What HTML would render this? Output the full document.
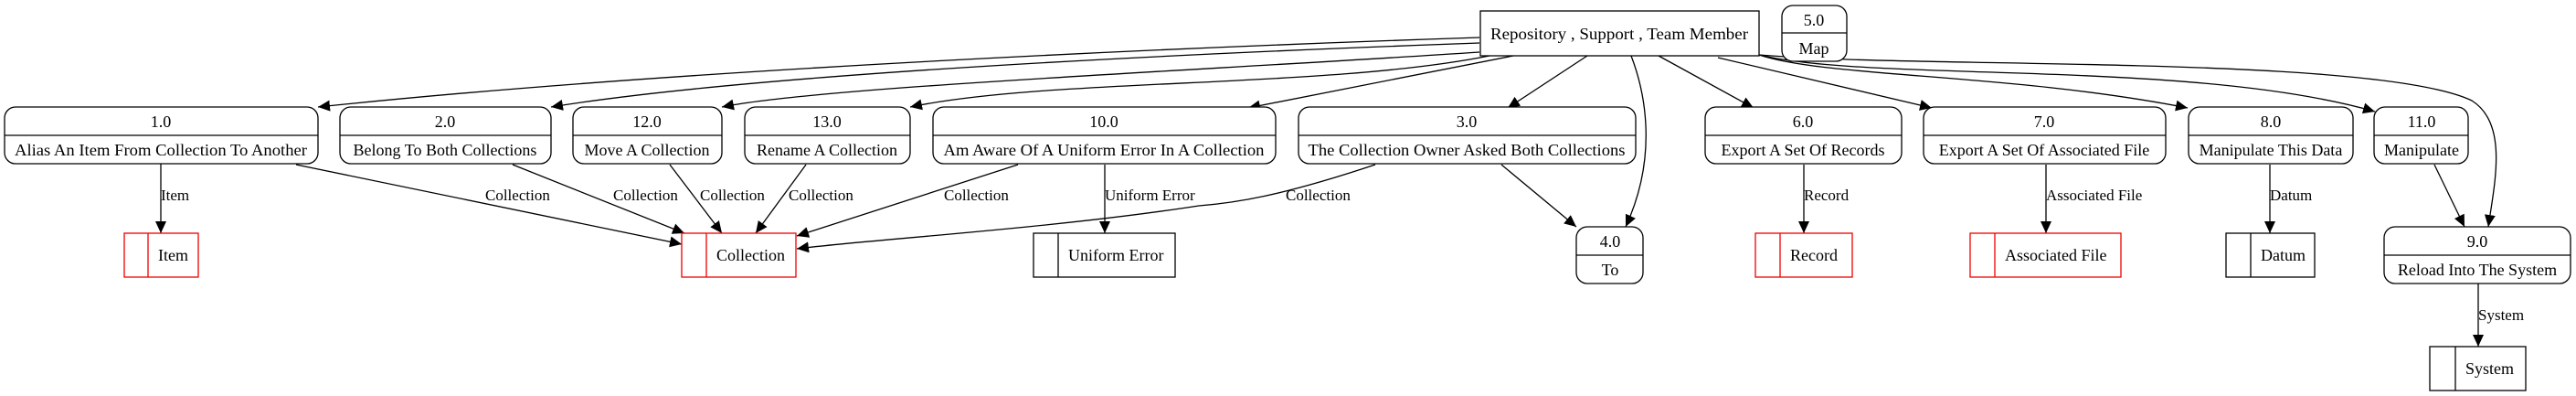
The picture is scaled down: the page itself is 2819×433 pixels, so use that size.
<!DOCTYPE html>
<html><head><meta charset="utf-8"><style>
html,body{margin:0;padding:0;background:#fff;}
svg{display:block;}
text{font-family:"Liberation Serif","Times New Roman",serif;font-size:18px;fill:#000;}
</style></head><body>
<svg width="2819" height="433" viewBox="0 0 2819 433" xmlns="http://www.w3.org/2000/svg">
<defs>
<marker id="a" markerUnits="userSpaceOnUse" markerWidth="14" markerHeight="12" refX="13" refY="6" orient="auto">
<path d="M0,0 L13,6 L0,12 Z" fill="#000"/>
</marker>
</defs>
<g fill="none" stroke="#000" stroke-width="1.3" marker-end="url(#a)">
<!-- from repository -->
<path d="M1619,41 C1200,55 700,80 348,117"/>
<path d="M1619,47 C1200,62 800,85 603,117"/>
<path d="M1619,57 C1300,78 900,95 790,117"/>
<path d="M1630,61 C1450,97 1150,85 996,117"/>
<path d="M1656,61 L1366,118"/>
<path d="M1737,61 L1650,118"/>
<path d="M1785,61 C1800,100 1815,170 1779,248"/>
<path d="M1815,61 L1919,118"/>
<path d="M1880,63 L2114,118"/>
<path d="M1925,60 C2000,85 2200,80 2394,118"/>
<path d="M1925,60 C2050,90 2400,65 2599,122"/>
<path d="M1925,60 C2100,75 2600,60 2705,110 C2745,135 2730,200 2723,248"/>
<path d="M2664,180 L2697,248"/>
<path d="M2712,310 L2712,379"/>
<!-- to stores -->
<path d="M176,179 L176,255"/>
<path d="M324,180 L746,267"/>
<path d="M561,180 L749,255"/>
<path d="M733,180 L790,255"/>
<path d="M882,180 L827,255"/>
<path d="M1114,180 L872,258"/>
<path d="M1505,180 C1400,215 1350,222 1312,225 C1150,250 950,262 872,272"/>
<path d="M1209,180 L1209,255"/>
<path d="M1643,180 L1725,248"/>
<path d="M1974,180 L1974,255"/>
<path d="M2239,180 L2239,255"/>
<path d="M2484,180 L2484,255"/>
</g>
<!-- process nodes -->
<g fill="#fff" stroke="#000" stroke-width="1.3">
<rect x="5" y="117" width="343" height="62" rx="12"/><line x1="5" y1="148" x2="348" y2="148"/>
<rect x="372" y="117" width="231" height="62" rx="12"/><line x1="372" y1="148" x2="603" y2="148"/>
<rect x="627" y="117" width="163" height="62" rx="12"/><line x1="627" y1="148" x2="790" y2="148"/>
<rect x="815" y="117" width="181" height="62" rx="12"/><line x1="815" y1="148" x2="996" y2="148"/>
<rect x="1021" y="117" width="375" height="62" rx="12"/><line x1="1021" y1="148" x2="1396" y2="148"/>
<rect x="1421" y="117" width="369" height="62" rx="12"/><line x1="1421" y1="148" x2="1790" y2="148"/>
<rect x="1866" y="117" width="215" height="62" rx="12"/><line x1="1866" y1="148" x2="2081" y2="148"/>
<rect x="2105" y="117" width="265" height="62" rx="12"/><line x1="2105" y1="148" x2="2370" y2="148"/>
<rect x="2395" y="117" width="180" height="62" rx="12"/><line x1="2395" y1="148" x2="2575" y2="148"/>
<rect x="2598" y="117" width="103" height="62" rx="12"/><line x1="2598" y1="148" x2="2701" y2="148"/>
<rect x="2609" y="248" width="204" height="62" rx="12"/><line x1="2609" y1="279" x2="2813" y2="279"/>
<rect x="1725" y="248" width="73" height="62" rx="12"/><line x1="1725" y1="279" x2="1798" y2="279"/>
<rect x="1950" y="6" width="71" height="61" rx="12"/><line x1="1950" y1="36" x2="2021" y2="36"/>
<rect x="1620" y="12" width="305" height="49"/>
</g>
<!-- stores -->
<g fill="#fff" stroke="#e00" stroke-width="1.3">
<rect x="136" y="255" width="81" height="48"/><line x1="162" y1="255" x2="162" y2="303"/>
<rect x="746" y="255" width="125" height="48"/><line x1="773" y1="255" x2="773" y2="303"/>
<rect x="1921" y="255" width="106" height="48"/><line x1="1948" y1="255" x2="1948" y2="303"/>
<rect x="2156" y="255" width="165" height="48"/><line x1="2183" y1="255" x2="2183" y2="303"/>
</g>
<g fill="#fff" stroke="#000" stroke-width="1.3">
<rect x="1131" y="255" width="155" height="48"/><line x1="1158" y1="255" x2="1158" y2="303"/>
<rect x="2436" y="255" width="97" height="48"/><line x1="2463" y1="255" x2="2463" y2="303"/>
<rect x="2659" y="379" width="105" height="48"/><line x1="2687" y1="379" x2="2687" y2="427"/>
</g>
<!-- node text -->
<g text-anchor="middle">
<text x="176" y="139">1.0</text><text x="176" y="170" textLength="320" lengthAdjust="spacingAndGlyphs">Alias An Item From Collection To Another</text>
<text x="487" y="139">2.0</text><text x="487" y="170">Belong To Both Collections</text>
<text x="708" y="139">12.0</text><text x="708" y="170">Move A Collection</text>
<text x="905" y="139">13.0</text><text x="905" y="170">Rename A Collection</text>
<text x="1208" y="139">10.0</text><text x="1208" y="170" textLength="351" lengthAdjust="spacingAndGlyphs">Am Aware Of A Uniform Error In A Collection</text>
<text x="1605" y="139">3.0</text><text x="1605" y="170" textLength="347" lengthAdjust="spacingAndGlyphs">The Collection Owner Asked Both Collections</text>
<text x="1973" y="139">6.0</text><text x="1973" y="170">Export A Set Of Records</text>
<text x="2237" y="139">7.0</text><text x="2237" y="170">Export A Set Of Associated File</text>
<text x="2485" y="139">8.0</text><text x="2485" y="170">Manipulate This Data</text>
<text x="2650" y="139">11.0</text><text x="2650" y="170">Manipulate</text>
<text x="2711" y="270">9.0</text><text x="2711" y="301">Reload Into The System</text>
<text x="1762" y="270">4.0</text><text x="1762" y="301">To</text>
<text x="1985" y="28">5.0</text><text x="1985" y="59">Map</text>
<text x="1772" y="43" textLength="282" lengthAdjust="spacingAndGlyphs">Repository , Support , Team Member</text>
</g>
<!-- store text -->
<text x="173" y="285">Item</text>
<text x="784" y="285">Collection</text>
<text x="1169" y="285">Uniform Error</text>
<text x="1959" y="285">Record</text>
<text x="2194" y="285">Associated File</text>
<text x="2474" y="285">Datum</text>
<text x="2698" y="409">System</text>
<!-- edge labels -->
<g font-size="17">
<text x="176" y="219" style="font-size:17px">Item</text>
<text x="531" y="219" style="font-size:17px">Collection</text>
<text x="671" y="219" style="font-size:17px">Collection</text>
<text x="766" y="219" style="font-size:17px">Collection</text>
<text x="863" y="219" style="font-size:17px">Collection</text>
<text x="1033" y="219" style="font-size:17px">Collection</text>
<text x="1209" y="219" style="font-size:17px">Uniform Error</text>
<text x="1407" y="219" style="font-size:17px">Collection</text>
<text x="1974" y="219" style="font-size:17px">Record</text>
<text x="2239" y="219" style="font-size:17px">Associated File</text>
<text x="2484" y="219" style="font-size:17px">Datum</text>
<text x="2712" y="350" style="font-size:17px">System</text>
</g>
</svg>
</body></html>
